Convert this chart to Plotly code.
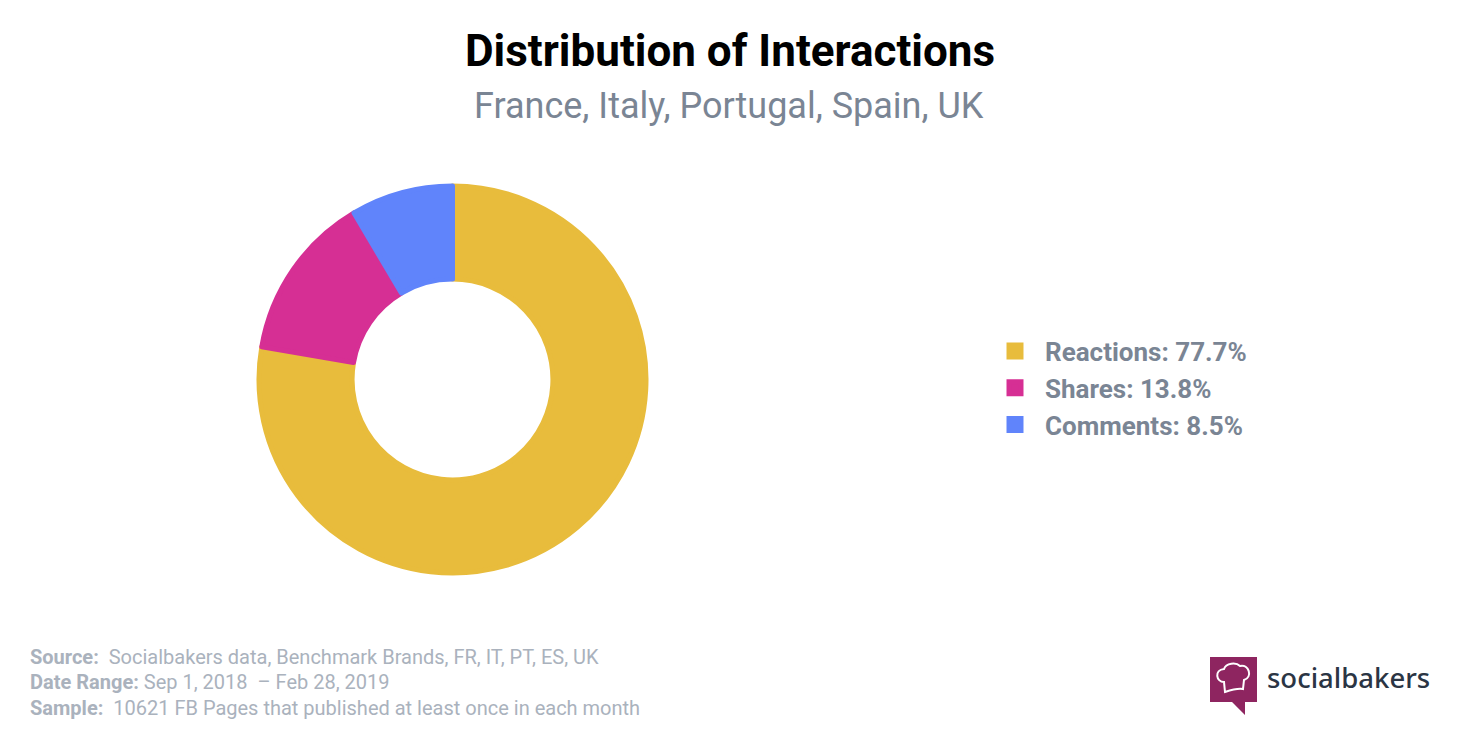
def grafico_interacciones():
    import plotly.graph_objects as go

    labels = ['Reactions: 77.7%', 'Shares: 13.8%', 'Comments: 8.5%']
    values = [77.7, 13.8, 8.5]
    colores = ['#E8BC3C', '#D62F94', '#6084FB']

    ancho = 1460
    alto = 730

    #el borde del mismo color hace mas grandes los cuadrados del legend
    fig = go.Figure(data=[go.Pie(labels=labels, values=values, hole=0.519, sort=False,
                                 direction='clockwise', rotation=0, textinfo='none',
                                 marker=dict(colors=colores, line=dict(color=colores, width=5)),
                                 domain=dict(x=[259/ancho, 646/ancho], y=[1-573/alto, 1-186/alto]))])

    #ponemos el legend a la derecha del donut
    fig.update_layout(width=ancho, height=alto, margin=dict(l=0, r=0, t=0, b=0),
                      paper_bgcolor='white', plot_bgcolor='white',
                      font=dict(family='Roboto'),
                      legend=dict(x=985/ancho, y=1-327.5/alto, xanchor='left', yanchor='top',
                                  font=dict(size=26, color='#7A8594', family='Roboto', weight='bold'),
                                  itemwidth=50, tracegroupgap=0))

    textos = [
        ('<b>Distribution of Interactions</b>', 730, 51, 'center', 44, '#000000'),
        ('France, Italy, Portugal, Spain, UK', 729, 106, 'center', 36, '#7A8594'),
        ('<b>Source:</b>  Socialbakers data, Benchmark Brands, FR, IT, PT, ES, UK', 28, 657, 'left', 20, '#AAB2BD'),
        ('<b>Date Range:</b> Sep 1, 2018  – Feb 28, 2019', 28, 682, 'left', 20, '#AAB2BD'),
        ('<b>Sample:</b>  10621 FB Pages that published at least once in each month', 28, 708, 'left', 20, '#AAB2BD'),
    ]
    for texto, x, y, ancla, size, color in textos:
        fig.add_annotation(text=texto, x=x/ancho, y=1-y/alto, xref='paper', yref='paper',
                           xanchor=ancla, yanchor='middle', showarrow=False,
                           font=dict(size=size, color=color, family='Roboto'))

    #logo de la marca
    def punto(x, y):
        return f"{x/ancho:.5f},{1-y/alto:.5f}"

    burbuja = [(1210, 657), (1257, 657), (1257, 702), (1245, 702), (1245, 715), (1232, 702), (1210, 702)]
    path = "M" + " L".join(punto(x, y) for x, y in burbuja) + " Z"
    fig.add_shape(type='path', path=path, xref='paper', yref='paper', fillcolor='#8E2560', line_width=0)

    gorro = ("M" + punto(1225, 692) + " L" + punto(1224, 682)
             + " C" + punto(1216, 682) + " " + punto(1214, 670) + " " + punto(1224, 669)
             + " C" + punto(1226, 663) + " " + punto(1236, 662) + " " + punto(1240, 666)
             + " C" + punto(1249, 664) + " " + punto(1253, 677) + " " + punto(1244, 680)
             + " L" + punto(1243, 689)
             + " C" + punto(1238, 688) + " " + punto(1231, 690) + " " + punto(1225, 692) + " Z")
    fig.add_shape(type='path', path=gorro, xref='paper', yref='paper', fillcolor='rgba(0,0,0,0)',
                  line=dict(color='white', width=2))

    fig.add_annotation(text='socialbakers', x=1265/ancho, y=1-677/alto, xref='paper', yref='paper',
                       xanchor='left', yanchor='middle', showarrow=False,
                       font=dict(size=27.5, color='#2B3544', family='Noto Sans', weight=500))

    return fig


fig = grafico_interacciones()
fig.write_html("out.html", config=dict(displayModeBar=False), post_script="document.body.style.margin = '0';")
